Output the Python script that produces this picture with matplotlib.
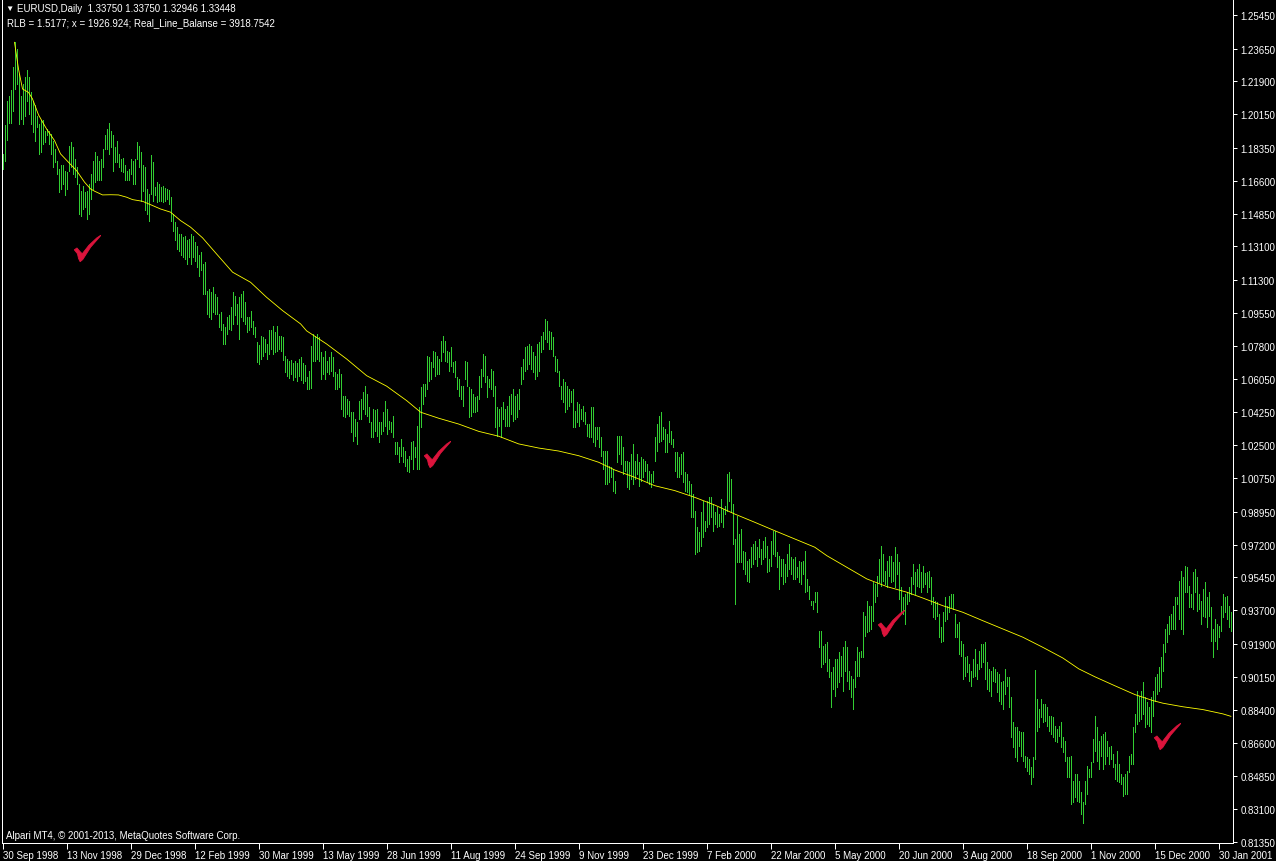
import numpy as np
import matplotlib
matplotlib.use('Agg')
import matplotlib.pyplot as plt
from matplotlib.path import Path

plt.rcParams['font.family'] = ['Liberation Sans', 'DejaVu Sans']

# daily bars (high / low), one value per bar
high = [
    1.1804, 1.1960, 1.2088, 1.2115, 1.2145, 1.2266, 1.2400, 1.2364, 1.2231, 1.2115,
    1.2177, 1.2213, 1.2252, 1.2213, 1.2133, 1.2088, 1.2062, 1.2008, 1.1964, 1.1982,
    1.1982, 1.1928, 1.1937, 1.1928, 1.1911, 1.1875, 1.1831, 1.1768, 1.1724, 1.1742,
    1.1747, 1.1715, 1.1706, 1.1848, 1.1866, 1.1840, 1.1777, 1.1733, 1.1644, 1.1608,
    1.1635, 1.1599, 1.1608, 1.1644, 1.1697, 1.1768, 1.1813, 1.1795, 1.1768, 1.1777,
    1.1831, 1.1902, 1.1937, 1.1968, 1.1928, 1.1902, 1.1840, 1.1875, 1.1804, 1.1777,
    1.1781, 1.1742, 1.1715, 1.1724, 1.1777, 1.1768, 1.1777, 1.1866, 1.1848, 1.1813,
    1.1742, 1.1733, 1.1617, 1.1591, 1.1800, 1.1759, 1.1626, 1.1653, 1.1644, 1.1626,
    1.1635, 1.1623, 1.1617, 1.1612, 1.1573, 1.1484, 1.1440, 1.1413, 1.1377, 1.1377,
    1.1359, 1.1368, 1.1342, 1.1351, 1.1377, 1.1368, 1.1333, 1.1315, 1.1262, 1.1280,
    1.1217, 1.1226, 1.1075, 1.1084, 1.1066, 1.1093, 1.1057, 1.1040, 1.0951, 1.0960,
    1.0897, 1.0879, 1.0933, 1.0942, 1.0986, 1.1066, 1.1048, 1.1004, 1.1040, 1.1057,
    1.1075, 1.1013, 1.0933, 1.0933, 1.0968, 1.0915, 1.0879, 1.0799, 1.0782, 1.0835,
    1.0826, 1.0817, 1.0791, 1.0862, 1.0862, 1.0888, 1.0853, 1.0888, 1.0835, 1.0835,
    1.0826, 1.0728, 1.0710, 1.0700, 1.0705, 1.0690, 1.0700, 1.0690, 1.0710, 1.0720,
    1.0690, 1.0680, 1.0612, 1.0648, 1.0781, 1.0843, 1.0835, 1.0843, 1.0826, 1.0746,
    1.0719, 1.0755, 1.0701, 1.0719, 1.0746, 1.0719, 1.0639, 1.0630, 1.0657, 1.0630,
    1.0514, 1.0514, 1.0497, 1.0488, 1.0426, 1.0426, 1.0390, 1.0372, 1.0488, 1.0497,
    1.0532, 1.0568, 1.0523, 1.0452, 1.0372, 1.0443, 1.0438, 1.0443, 1.0372, 1.0372,
    1.0426, 1.0488, 1.0443, 1.0381, 1.0372, 1.0408, 1.0266, 1.0266, 1.0239, 1.0283,
    1.0239, 1.0221, 1.0177, 1.0194, 1.0266, 1.0274, 1.0239, 1.0355, 1.0452, 1.0559,
    1.0577, 1.0577, 1.0728, 1.0719, 1.0692, 1.0755, 1.0746, 1.0728, 1.0710, 1.0808,
    1.0835, 1.0808, 1.0755, 1.0746, 1.0772, 1.0692, 1.0701, 1.0612, 1.0603, 1.0568,
    1.0568, 1.0701, 1.0692, 1.0559, 1.0550, 1.0523, 1.0506, 1.0514, 1.0621, 1.0657,
    1.0737, 1.0728, 1.0621, 1.0603, 1.0657, 1.0648, 1.0568, 1.0452, 1.0443, 1.0452,
    1.0479, 1.0443, 1.0461, 1.0514, 1.0523, 1.0550, 1.0514, 1.0523, 1.0550, 1.0666,
    1.0710, 1.0772, 1.0781, 1.0790, 1.0781, 1.0746, 1.0728, 1.0790, 1.0799, 1.0835,
    1.0852, 1.0923, 1.0915, 1.0861, 1.0852, 1.0826, 1.0728, 1.0710, 1.0648, 1.0568,
    1.0603, 1.0586, 1.0568, 1.0550, 1.0541, 1.0550, 1.0434, 1.0479, 1.0470, 1.0443,
    1.0461, 1.0426, 1.0363, 1.0363, 1.0452, 1.0452, 1.0346, 1.0346, 1.0346, 1.0292,
    1.0221, 1.0221, 1.0221, 1.0141, 1.0132, 1.0123, 1.0061, 1.0301, 1.0301, 1.0301,
    1.0239, 1.0168, 1.0168, 1.0159, 1.0203, 1.0257, 1.0168, 1.0203, 1.0159, 1.0186,
    1.0177, 1.0168, 1.0150, 1.0114, 1.0097, 1.0114, 1.0292, 1.0363, 1.0408, 1.0426,
    1.0346, 1.0337, 1.0310, 1.0381, 1.0328, 1.0283, 1.0212, 1.0212, 1.0186, 1.0203,
    1.0212, 1.0106, 1.0097, 1.0061, 1.0043, 0.9990, 0.9901, 0.9812, 0.9786, 0.9892,
    0.9954, 0.9848, 0.9954, 0.9972, 0.9972, 0.9937, 0.9892, 0.9919, 0.9883, 0.9963,
    0.9910, 0.9928, 1.0097, 1.0106, 1.0070, 0.9937, 0.9750, 0.9874, 0.9777, 0.9803,
    0.9688, 0.9679, 0.9634, 0.9643, 0.9706, 0.9723, 0.9741, 0.9706, 0.9750, 0.9697,
    0.9741, 0.9759, 0.9714, 0.9643, 0.9741, 0.9794, 0.9794, 0.9679, 0.9661, 0.9643,
    0.9643, 0.9617, 0.9670, 0.9723, 0.9652, 0.9643, 0.9652, 0.9599, 0.9634, 0.9625,
    0.9634, 0.9688, 0.9537, 0.9501, 0.9421, 0.9421, 0.9466, 0.9466, 0.9261, 0.9261,
    0.9181, 0.9190, 0.9199, 0.9110, 0.9039, 0.9065, 0.9110, 0.9110, 0.9145, 0.9128,
    0.9172, 0.9208, 0.9172, 0.9048, 0.9021, 0.9003, 0.9101, 0.9172, 0.9145, 0.9154,
    0.9359, 0.9341, 0.9421, 0.9394, 0.9394, 0.9519, 0.9510, 0.9554, 0.9643, 0.9714,
    0.9670, 0.9581, 0.9634, 0.9661, 0.9661, 0.9625, 0.9706, 0.9670, 0.9625, 0.9492,
    0.9439, 0.9457, 0.9466, 0.9492, 0.9546, 0.9617, 0.9572, 0.9590, 0.9617, 0.9572,
    0.9608, 0.9567, 0.9572, 0.9578, 0.9546, 0.9439, 0.9421, 0.9412, 0.9350, 0.9279,
    0.9359, 0.9439, 0.9394, 0.9448, 0.9457, 0.9457, 0.9350, 0.9297, 0.9306, 0.9208,
    0.9190, 0.9119, 0.9128, 0.9083, 0.9048, 0.9110, 0.9163, 0.9083, 0.9154, 0.9190,
    0.9190, 0.9199, 0.9092, 0.9057, 0.9048, 0.9065, 0.9057, 0.9039, 0.9030, 0.8986,
    0.8994, 0.9057, 0.9012, 0.9012, 0.8905, 0.8772, 0.8745, 0.8745, 0.8728, 0.8719,
    0.8719, 0.8594, 0.8585, 0.8577, 0.8532, 0.8585, 0.9051, 0.8897, 0.8843, 0.8897,
    0.8870, 0.8870, 0.8852, 0.8808, 0.8808, 0.8799, 0.8754, 0.8737, 0.8754, 0.8772,
    0.8692, 0.8674, 0.8585, 0.8585, 0.8594, 0.8461, 0.8497, 0.8497, 0.8461, 0.8399,
    0.8345, 0.8461, 0.8541, 0.8523, 0.8559, 0.8683, 0.8808, 0.8745, 0.8674, 0.8701,
    0.8710, 0.8719, 0.8674, 0.8639, 0.8648, 0.8603, 0.8550, 0.8621, 0.8550, 0.8497,
    0.8479, 0.8497, 0.8514, 0.8594, 0.8603, 0.8749, 0.8817, 0.8941, 0.8914, 0.8941,
    0.8986, 0.8905, 0.8879, 0.8852, 0.8905, 0.8941, 0.9012, 0.9030, 0.9065, 0.9119,
    0.9190, 0.9270, 0.9297, 0.9341, 0.9350, 0.9394, 0.9439, 0.9439, 0.9528, 0.9581,
    0.9546, 0.9604, 0.9599, 0.9501, 0.9457, 0.9572, 0.9590, 0.9546, 0.9457, 0.9421,
    0.9483, 0.9519, 0.9439, 0.9466, 0.9386, 0.9270, 0.9323, 0.9297, 0.9288, 0.9394,
    0.9457, 0.9439, 0.9448, 0.9394, 0.9359,
]
low = [
    1.1724, 1.1768, 1.1879, 1.1968, 1.1968, 1.2032, 1.2151, 1.2177, 1.1964, 1.1991,
    1.1964, 1.2008, 1.2088, 1.2017, 1.1964, 1.1919, 1.1875, 1.1946, 1.1804, 1.1813,
    1.1857, 1.1866, 1.1902, 1.1857, 1.1804, 1.1733, 1.1759, 1.1697, 1.1599, 1.1617,
    1.1644, 1.1582, 1.1617, 1.1715, 1.1733, 1.1697, 1.1680, 1.1644, 1.1484, 1.1475,
    1.1511, 1.1519, 1.1457, 1.1484, 1.1564, 1.1617, 1.1653, 1.1662, 1.1662, 1.1662,
    1.1733, 1.1831, 1.1831, 1.1804, 1.1840, 1.1715, 1.1759, 1.1759, 1.1733, 1.1715,
    1.1706, 1.1662, 1.1662, 1.1662, 1.1697, 1.1644, 1.1644, 1.1777, 1.1733, 1.1555,
    1.1608, 1.1502, 1.1484, 1.1448, 1.1591, 1.1555, 1.1582, 1.1546, 1.1555, 1.1555,
    1.1546, 1.1555, 1.1564, 1.1537, 1.1448, 1.1395, 1.1342, 1.1297, 1.1288, 1.1262,
    1.1253, 1.1244, 1.1217, 1.1253, 1.1217, 1.1253, 1.1235, 1.1199, 1.1155, 1.1182,
    1.1057, 1.1057, 1.0951, 1.0933, 1.0924, 1.0960, 1.0951, 1.0951, 1.0879, 1.0862,
    1.0791, 1.0791, 1.0844, 1.0871, 1.0862, 1.0897, 1.0942, 1.0897, 1.0817, 1.0933,
    1.0915, 1.0897, 1.0853, 1.0862, 1.0879, 1.0844, 1.0826, 1.0693, 1.0684, 1.0711,
    1.0728, 1.0746, 1.0711, 1.0737, 1.0764, 1.0737, 1.0746, 1.0755, 1.0764, 1.0755,
    1.0702, 1.0640, 1.0620, 1.0610, 1.0630, 1.0600, 1.0615, 1.0590, 1.0620, 1.0600,
    1.0580, 1.0590, 1.0550, 1.0550, 1.0554, 1.0701, 1.0701, 1.0710, 1.0701, 1.0603,
    1.0630, 1.0603, 1.0639, 1.0630, 1.0648, 1.0621, 1.0550, 1.0550, 1.0559, 1.0443,
    1.0408, 1.0399, 1.0417, 1.0408, 1.0319, 1.0274, 1.0301, 1.0257, 1.0390, 1.0390,
    1.0443, 1.0417, 1.0408, 1.0372, 1.0292, 1.0292, 1.0328, 1.0301, 1.0266, 1.0310,
    1.0328, 1.0355, 1.0310, 1.0337, 1.0319, 1.0292, 1.0203, 1.0203, 1.0159, 1.0194,
    1.0159, 1.0141, 1.0115, 1.0106, 1.0177, 1.0123, 1.0186, 1.0123, 1.0123, 1.0346,
    1.0470, 1.0514, 1.0550, 1.0594, 1.0603, 1.0666, 1.0621, 1.0630, 1.0630, 1.0701,
    1.0746, 1.0701, 1.0692, 1.0648, 1.0674, 1.0639, 1.0612, 1.0550, 1.0514, 1.0497,
    1.0461, 1.0603, 1.0568, 1.0399, 1.0408, 1.0426, 1.0426, 1.0434, 1.0497, 1.0559,
    1.0621, 1.0586, 1.0506, 1.0559, 1.0550, 1.0514, 1.0346, 1.0301, 1.0355, 1.0292,
    1.0390, 1.0355, 1.0355, 1.0355, 1.0417, 1.0381, 1.0390, 1.0399, 1.0443, 1.0577,
    1.0603, 1.0648, 1.0657, 1.0683, 1.0657, 1.0639, 1.0603, 1.0621, 1.0648, 1.0746,
    1.0763, 1.0817, 1.0799, 1.0763, 1.0763, 1.0728, 1.0648, 1.0639, 1.0568, 1.0497,
    1.0479, 1.0426, 1.0443, 1.0461, 1.0479, 1.0346, 1.0346, 1.0372, 1.0355, 1.0390,
    1.0381, 1.0363, 1.0301, 1.0292, 1.0292, 1.0266, 1.0248, 1.0283, 1.0239, 1.0194,
    1.0123, 1.0043, 1.0043, 1.0052, 1.0079, 1.0008, 0.9995, 1.0159, 1.0203, 1.0150,
    1.0097, 1.0114, 1.0026, 1.0017, 1.0070, 1.0043, 1.0070, 1.0097, 1.0034, 1.0061,
    1.0079, 1.0114, 1.0052, 1.0043, 1.0026, 1.0052, 1.0168, 1.0221, 1.0266, 1.0274,
    1.0283, 1.0212, 1.0212, 1.0266, 1.0257, 1.0239, 1.0114, 1.0079, 1.0079, 1.0097,
    1.0052, 1.0008, 0.9999, 0.9990, 0.9866, 0.9866, 0.9670, 0.9679, 0.9688, 0.9714,
    0.9759, 0.9794, 0.9812, 0.9830, 0.9866, 0.9794, 0.9830, 0.9812, 0.9821, 0.9839,
    0.9812, 0.9883, 0.9901, 0.9954, 0.9892, 0.9723, 0.9403, 0.9625, 0.9625, 0.9625,
    0.9590, 0.9563, 0.9528, 0.9519, 0.9599, 0.9617, 0.9643, 0.9608, 0.9652, 0.9617,
    0.9643, 0.9652, 0.9572, 0.9581, 0.9608, 0.9670, 0.9661, 0.9599, 0.9483, 0.9554,
    0.9510, 0.9519, 0.9554, 0.9590, 0.9563, 0.9537, 0.9537, 0.9546, 0.9519, 0.9510,
    0.9563, 0.9466, 0.9474, 0.9430, 0.9398, 0.9377, 0.9412, 0.9359, 0.9172, 0.9065,
    0.9083, 0.9092, 0.9048, 0.9012, 0.8852, 0.8950, 0.8914, 0.8959, 0.8985, 0.9021,
    0.8941, 0.9048, 0.8994, 0.8950, 0.8906, 0.8843, 0.8959, 0.9021, 0.9021, 0.9119,
    0.9119, 0.9234, 0.9252, 0.9261, 0.9270, 0.9314, 0.9412, 0.9448, 0.9519, 0.9501,
    0.9528, 0.9510, 0.9492, 0.9554, 0.9519, 0.9528, 0.9492, 0.9563, 0.9430, 0.9359,
    0.9350, 0.9297, 0.9403, 0.9421, 0.9457, 0.9510, 0.9457, 0.9501, 0.9492, 0.9466,
    0.9492, 0.9510, 0.9466, 0.9492, 0.9403, 0.9332, 0.9323, 0.9341, 0.9226, 0.9199,
    0.9208, 0.9314, 0.9323, 0.9359, 0.9386, 0.9377, 0.9226, 0.9226, 0.9137, 0.9128,
    0.9003, 0.9021, 0.9039, 0.8994, 0.8968, 0.9012, 0.9021, 0.9003, 0.9057, 0.9065,
    0.9092, 0.9003, 0.8950, 0.8941, 0.8914, 0.8994, 0.8986, 0.8932, 0.8888, 0.8870,
    0.8843, 0.8923, 0.8968, 0.8852, 0.8692, 0.8639, 0.8585, 0.8568, 0.8648, 0.8594,
    0.8568, 0.8532, 0.8514, 0.8497, 0.8443, 0.8479, 0.8577, 0.8728, 0.8745, 0.8799,
    0.8772, 0.8781, 0.8754, 0.8728, 0.8710, 0.8692, 0.8674, 0.8665, 0.8701, 0.8639,
    0.8612, 0.8568, 0.8479, 0.8479, 0.8337, 0.8345, 0.8372, 0.8354, 0.8345, 0.8283,
    0.8233, 0.8337, 0.8390, 0.8479, 0.8479, 0.8559, 0.8621, 0.8568, 0.8523, 0.8594,
    0.8523, 0.8550, 0.8594, 0.8550, 0.8577, 0.8532, 0.8470, 0.8461, 0.8452, 0.8443,
    0.8381, 0.8390, 0.8390, 0.8505, 0.8550, 0.8550, 0.8719, 0.8763, 0.8781, 0.8790,
    0.8817, 0.8745, 0.8763, 0.8754, 0.8719, 0.8808, 0.8888, 0.8923, 0.8941, 0.8959,
    0.9048, 0.9146, 0.9199, 0.9243, 0.9270, 0.9270, 0.9270, 0.9403, 0.9323, 0.9270,
    0.9243, 0.9466, 0.9466, 0.9386, 0.9386, 0.9377, 0.9466, 0.9368, 0.9377, 0.9297,
    0.9341, 0.9332, 0.9279, 0.9341, 0.9208, 0.9119, 0.9208, 0.9163, 0.9226, 0.9261,
    0.9332, 0.9359, 0.9323, 0.9279, 0.9261,
]

# yellow indicator line, sampled at these bars
line_bars = [6, 8, 10, 13, 15, 18, 22, 26, 29, 33, 37, 41, 44, 46, 50, 54, 58, 62, 65, 70,
             74, 79, 84, 89, 94, 100, 107, 115, 124, 132, 140, 149, 152, 162, 172, 182, 192, 202, 209, 218,
             228, 238, 248, 258, 268, 278, 288, 298, 306, 316, 326, 336, 346, 356, 366, 376, 386, 396, 406, 412,
             422, 432, 442, 452, 460, 470, 480, 490, 500, 510, 520, 530, 538, 546, 556, 566, 575, 580, 590, 600,
             610, 614]
line_vals = [1.2399, 1.2257, 1.2150, 1.2132, 1.2097, 1.2012, 1.1937, 1.1875, 1.1804, 1.1759,
             1.1715, 1.1653, 1.1617, 1.1605, 1.1585, 1.1586, 1.1585, 1.1573, 1.1560, 1.1551,
             1.1533, 1.1510, 1.1493, 1.1448, 1.1413, 1.1356, 1.1270, 1.1173, 1.1119, 1.1039,
             1.0968, 1.0897, 1.0860, 1.0790, 1.0710, 1.0621, 1.0565, 1.0488, 1.0426, 1.0394,
             1.0363, 1.0324, 1.0298, 1.0257, 1.0235, 1.0219, 1.0194, 1.0159, 1.0118, 1.0079,
             1.0034, 1.0008, 0.9972, 0.9931, 0.9883, 0.9839, 0.9794, 0.9750, 0.9706, 0.9661,
             0.9599, 0.9537, 0.9496, 0.9466, 0.9435, 0.9394, 0.9359, 0.9314, 0.9270, 0.9226,
             0.9172, 0.9115, 0.9057, 0.9015, 0.8967, 0.8920, 0.8888, 0.8874, 0.8855, 0.8840,
             0.8817, 0.8804]

# red check marks
check_bars = [42, 217, 444, 582]
check_vals = [1.1302, 1.0203, 0.9302, 0.8699]

date_labels = ['30 Sep 1998', '13 Nov 1998', '29 Dec 1998', '12 Feb 1999', '30 Mar 1999',
               '13 May 1999', '28 Jun 1999', '11 Aug 1999', '24 Sep 1999', '9 Nov 1999',
               '23 Dec 1999', '7 Feb 2000', '22 Mar 2000', '5 May 2000', '20 Jun 2000',
               '3 Aug 2000', '18 Sep 2000', '1 Nov 2000', '15 Dec 2000', '30 Jan 2001']
price_ticks = [1.25450, 1.23650, 1.21900, 1.20150, 1.18350, 1.16600, 1.14850, 1.13100,
               1.11300, 1.09550, 1.07800, 1.06050, 1.04250, 1.02500, 1.00750, 0.98950,
               0.97200, 0.95450, 0.93700, 0.91900, 0.90150, 0.88400, 0.86600, 0.84850,
               0.83100, 0.81350]

W, H = 1276, 862
fig = plt.figure(figsize=(W / 100, H / 100), dpi=100, facecolor='black')
ax = fig.add_axes([1.5 / W, 18.5 / H, (1233.3 - 1.5) / W, (H - 18.5) / H])
ax.set_facecolor('black')

bars = np.arange(len(high))
ax.vlines(bars, low, high, colors='#32CD32', linewidth=0.72, antialiased=False)
ax.plot(line_bars, line_vals, color='#FFFF00', linewidth=0.6, antialiased=True)

# brush-like tick shape used as a marker
tick_shape = np.array([
    [0.00, 0.45], [0.10, 0.52], [0.22, 0.38], [0.30, 0.30], [0.55, 0.62],
    [0.85, 0.90], [1.00, 1.00], [0.97, 0.95], [0.62, 0.55], [0.32, 0.08],
    [0.22, 0.00], [0.16, 0.12], [0.12, 0.30], [0.00, 0.45]]) - 0.5
check = Path(tick_shape, closed=True)
ax.plot(check_bars, check_vals, linestyle='none', marker=check, markersize=19,
        color='#DC143C', markeredgecolor='#DC143C', markeredgewidth=0.6)

ax.set_xlim(-0.5, 615.2)
ax.set_ylim(0.8131, 1.2630)

ax.set_xticks(np.arange(0, len(high), 32))
ax.set_xticklabels(date_labels, ha='left')
ax.yaxis.tick_right()
ax.set_yticks(price_ticks)
ax.set_yticklabels([f'{v:.5f}' for v in price_ticks])
ax.tick_params(axis='x', colors='white', direction='out', length=4, width=0.72,
               pad=1.5, labelsize=7)
ax.tick_params(axis='y', colors='white', direction='out', length=3, width=0.72,
               pad=2, labelsize=7)

for side in ['left', 'right', 'bottom']:
    ax.spines[side].set_color('white')
    ax.spines[side].set_linewidth(0.72)
ax.spines['top'].set_visible(False)

fig.text(5 / W, 1 - 9 / H, '\u25bc', color='white', fontsize=6, va='center')
fig.text(17 / W, 1 - 9 / H, 'EURUSD,Daily  1.33750 1.33750 1.32946 1.33448',
         color='white', fontsize=7, va='center')
fig.text(7 / W, 1 - 23 / H, 'RLB = 1.5177; x = 1926.924; Real_Line_Balanse = 3918.7542',
         color='white', fontsize=7, va='center')
fig.text(6 / W, 1 - 836 / H, 'Alpari MT4, \u00a9 2001-2013, MetaQuotes Software Corp.',
         color='white', fontsize=7, va='center')

fig.savefig('out.png', dpi=100, facecolor='black')
